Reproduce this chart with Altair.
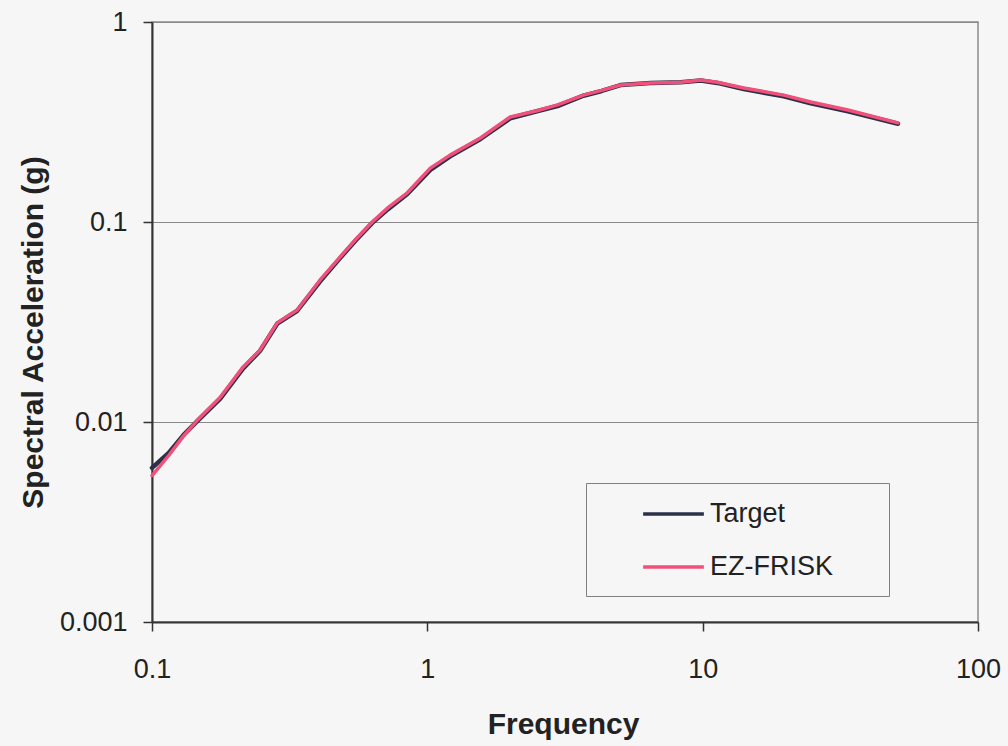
import altair as alt
import pandas as pd

# Values (log-log spectrum)
freq = [0.1, 0.115, 0.13, 0.146, 0.177, 0.214, 0.247, 0.285, 0.337, 0.408,
        0.482, 0.55, 0.631, 0.72, 0.846, 1.025, 1.21, 1.56, 2.0, 2.5,
        2.97, 3.69, 4.3, 5.03, 6.47, 8.32, 9.84, 11.3, 14.1, 19.7,
        24.7, 33.7, 51.2]
target = [0.0059, 0.0070, 0.0086, 0.0101, 0.0131, 0.0185, 0.0227, 0.0310, 0.0360, 0.0505,
          0.0660, 0.081, 0.099, 0.116, 0.138, 0.182, 0.213, 0.260, 0.330, 0.358,
          0.380, 0.428, 0.452, 0.484, 0.495, 0.500, 0.510, 0.496, 0.462, 0.425,
          0.392, 0.358, 0.310]
ezfrisk = [0.0054, 0.0068, 0.0085, 0.0102, 0.0133, 0.0188, 0.0229, 0.0313, 0.0363, 0.0513,
           0.0668, 0.082, 0.100, 0.118, 0.140, 0.186, 0.216, 0.263, 0.335, 0.360,
           0.385, 0.431, 0.455, 0.484, 0.495, 0.500, 0.513, 0.500, 0.468, 0.431,
           0.398, 0.363, 0.313]
series_names = ["Target", "EZ-FRISK"]
series_colors = ["#2b3148", "#f0507a"]
x_ticks = [0.1, 1, 10, 100]
y_ticks = [0.001, 0.01, 0.1, 1]

rows = []
for f, v in zip(freq, target):
    rows.append({"Frequency": f, "SA": v, "Series": "Target"})
for f, v in zip(freq, ezfrisk):
    rows.append({"Frequency": f, "SA": v, "Series": "EZ-FRISK"})
df = pd.DataFrame(rows)

FONT = "Liberation Sans"
BG = "#f6f6f6"

x_enc = alt.X(
    "Frequency:Q",
    scale=alt.Scale(type="log", domain=[0.1, 100], nice=False),
    axis=alt.Axis(
        values=x_ticks, format="~g", grid=False,
        tickSize=9, tickColor="#333", tickWidth=1.5,
        domainColor="#333", domainWidth=2,
        labelFont=FONT, labelFontSize=27, labelColor="#222", labelPadding=25,
        labelFlush=False,
        title="Frequency", titleFont=FONT, titleFontSize=30, titleFontWeight="bold",
        titleColor="#222", titleX=411, titleY=111, titleBaseline="alphabetic",
        titleAlign="center",
    ),
)
y_enc = alt.Y(
    "SA:Q",
    scale=alt.Scale(type="log", domain=[0.001, 1], nice=False),
    axis=alt.Axis(
        values=y_ticks, format="~g", grid=True, gridColor="#8a8a8a", gridWidth=1,
        tickSize=9, tickColor="#333", tickWidth=1.5,
        domainColor="#333", domainWidth=2,
        labelFont=FONT, labelFontSize=27, labelColor="#222", labelPadding=16,
        labelFlush=False,
        title="Spectral Acceleration (g)", titleFont=FONT, titleFontSize=30,
        titleFontWeight="bold", titleColor="#222", titleX=-110, titleY=310,
        titleAngle=270, titleAlign="center", titleBaseline="alphabetic",
    ),
)
color_enc = alt.Color(
    "Series:N",
    scale=alt.Scale(domain=series_names, range=series_colors),
    legend=alt.Legend(
        title=None, orient="none", legendX=434, legendY=461,
        padding=15.5, strokeColor="#808080", fillColor=BG,
        symbolType="M-2.25,0H2.25", symbolSize=729, symbolStrokeWidth=3.5,
        symbolFillColor="transparent",
        symbolOffset=56.5, labelOffset=21, rowPadding=24, labelLimit=400,
        labelFont=FONT, labelFontSize=27, labelColor="#222",
        labelExpr="datum.label + '\u2800\u2800'",
    ),
)

base = alt.Chart(df)
target_line = base.transform_filter(alt.datum.Series == "Target").mark_line(
    strokeWidth=4.5, strokeJoin="round", strokeCap="round"
).encode(x=x_enc, y=y_enc, color=color_enc)
ez_line = base.transform_filter(alt.datum.Series == "EZ-FRISK").mark_line(
    strokeWidth=3.5, strokeJoin="round", strokeCap="round"
).encode(x=x_enc, y=y_enc, color=color_enc)

chart = alt.layer(target_line, ez_line).properties(
    width=826, height=600,
    padding={"left": 152, "top": 22, "right": 30, "bottom": 124},
    autosize=alt.AutoSizeParams(type="none"),
    background=BG,
).configure_view(stroke="#8c8c8c", strokeWidth=1.5, fill=BG)

chart.save("out.html", embed_options={"renderer": "svg", "actions": False})
